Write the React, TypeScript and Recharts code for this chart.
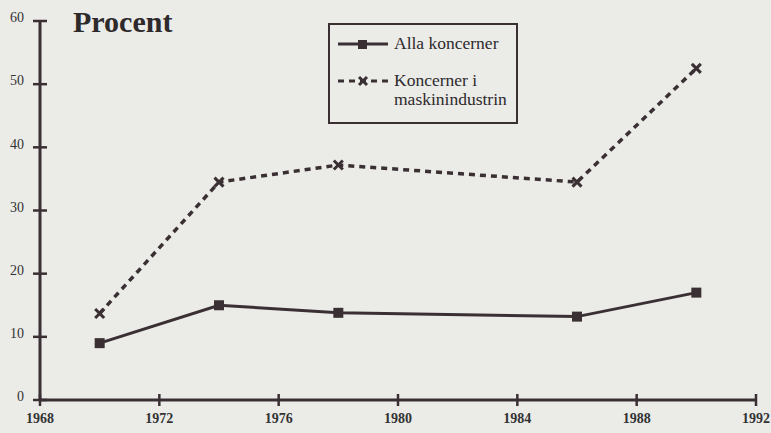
import { LineChart, Line, XAxis, YAxis } from "recharts";

const years = [1970, 1974, 1978, 1986, 1990];
const allaKoncerner = [9, 15, 13.8, 13.2, 17];
const maskinindustrin = [13.7, 34.5, 37.2, 34.5, 52.5];
const xTicks = [1968, 1972, 1976, 1980, 1984, 1988, 1992];
const yTicks = [0, 10, 20, 30, 40, 50, 60];

const data = years.map((year, i) => ({
  year,
  alla: allaKoncerner[i],
  maskin: maskinindustrin[i],
}));

const INK = "#3a3034";
const SERIF = "'Liberation Serif', 'DejaVu Serif', serif";

const YTick = (props: any) => {
  const { x, y, payload } = props;
  return (
    <g>
      <line x1={x - 7} x2={x + 7} y1={y} y2={y} stroke={INK} strokeWidth={2.5} />
      <text x={x - 16} y={y - 2} textAnchor="end" dominantBaseline="middle" fontSize={14} fill="#333" fontFamily={SERIF}>
        {payload.value}
      </text>
    </g>
  );
};

const XTick = (props: any) => {
  const { x, y, payload } = props;
  return (
    <g>
      <line x1={x} x2={x} y1={y - 6} y2={y + 6} stroke={INK} strokeWidth={2.5} />
      <text x={x} y={y + 23} textAnchor="middle" fontSize={14} fontWeight="bold" fill="#333" fontFamily={SERIF}>
        {payload.value}
      </text>
    </g>
  );
};

const SquareDot = (props: any) => {
  const { cx, cy } = props;
  return <rect x={cx - 5} y={cy - 5} width={10} height={10} fill={INK} />;
};

const CrossDot = (props: any) => {
  const { cx, cy } = props;
  return (
    <g stroke={INK} strokeWidth={3}>
      <line x1={cx - 4.5} y1={cy - 4.5} x2={cx + 4.5} y2={cy + 4.5} />
      <line x1={cx - 4.5} y1={cy + 4.5} x2={cx + 4.5} y2={cy - 4.5} />
    </g>
  );
};

const LegendBox = () => (
  <div
    style={{
      position: "absolute",
      left: 328,
      top: 23,
      width: 186,
      height: 97,
      border: `2px solid ${INK}`,
      fontFamily: SERIF,
      fontSize: 17.5,
      color: "#2e2a2c",
    }}
  >
    <svg width={60} height={97} style={{ position: "absolute", left: 0, top: 0 }}>
      <line x1={8} x2={58} y1={19} y2={19} stroke={INK} strokeWidth={3} />
      <rect x={28} y={15} width={9} height={9} fill={INK} />
      <line x1={8} x2={58} y1={56} y2={56} stroke={INK} strokeWidth={3} strokeDasharray="6 5" />
      <g stroke={INK} strokeWidth={3}>
        <line x1={29} y1={52} x2={37} y2={60} />
        <line x1={29} y1={60} x2={37} y2={52} />
      </g>
    </svg>
    <div style={{ position: "absolute", left: 64, top: 8, lineHeight: "20px" }}>Alla koncerner</div>
    <div style={{ position: "absolute", left: 64, top: 46, lineHeight: "19px" }}>
      Koncerner i
      <br />
      maskinindustrin
    </div>
  </div>
);

export default function App() {
  return (
    <div style={{ position: "absolute", left: 0, top: 0, width: 771, height: 433, background: "#ebebe8" }}>
      <LineChart width={771} height={433} data={data} margin={{ top: 21, right: 15, left: 10, bottom: 3 }}>
        <XAxis
          dataKey="year"
          type="number"
          domain={[1968, 1992]}
          ticks={xTicks}
          interval={0}
          height={30}
          tickSize={0}
          tickMargin={0}
          tickLine={false}
          axisLine={{ stroke: INK, strokeWidth: 3 }}
          tick={<XTick />}
        />
        <YAxis
          type="number"
          domain={[0, 60]}
          ticks={yTicks}
          interval={0}
          width={30}
          tickSize={0}
          tickMargin={0}
          tickLine={false}
          axisLine={{ stroke: INK, strokeWidth: 3 }}
          tick={<YTick />}
        />
        <Line
          dataKey="alla"
          name="Alla koncerner"
          stroke={INK}
          strokeWidth={3}
          dot={<SquareDot />}
          isAnimationActive={false}
        />
        <Line
          dataKey="maskin"
          name="Koncerner i maskinindustrin"
          stroke={INK}
          strokeWidth={3.5}
          strokeDasharray="6 5"
          dot={<CrossDot />}
          isAnimationActive={false}
        />
      </LineChart>
      <div
        style={{
          position: "absolute",
          left: 73,
          top: 5,
          fontFamily: SERIF,
          fontWeight: "bold",
          fontSize: 30,
          color: "#2e2a2c",
        }}
      >
        Procent
      </div>
      <LegendBox />
    </div>
  );
}
